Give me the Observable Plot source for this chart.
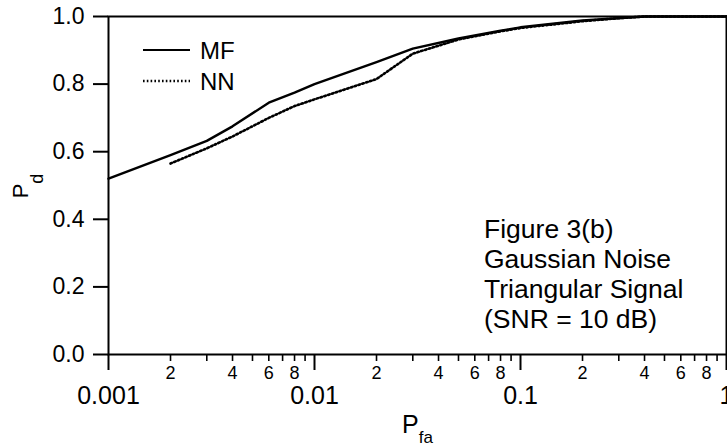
<!DOCTYPE html>
<html>
<head>
<meta charset="utf-8">
<script src="https://cdn.jsdelivr.net/npm/d3@7"></script>
<script src="https://cdn.jsdelivr.net/npm/@observablehq/plot@0.6"></script>
<style>
  html, body { margin: 0; padding: 0; background: #fff; }
  #chart svg { display: block; }
</style>
</head>
<body>
<div id="chart"></div>
<script>
// ---- data ----
const pfaMF = [0.001, 0.002, 0.003, 0.004, 0.006, 0.008, 0.01, 0.02, 0.03, 0.05, 0.08, 0.1, 0.2, 0.4, 1];
const pdMF  = [0.52, 0.59, 0.632, 0.675, 0.745, 0.775, 0.80, 0.865, 0.905, 0.935, 0.958, 0.968, 0.988, 1.0, 1.0];
const pfaNN = [0.002, 0.003, 0.004, 0.006, 0.008, 0.01, 0.02, 0.03, 0.05, 0.08, 0.1, 0.2, 0.3, 0.4, 1];
const pdNN  = [0.565, 0.61, 0.645, 0.70, 0.735, 0.755, 0.815, 0.89, 0.932, 0.956, 0.966, 0.986, 0.995, 1.0, 1.0];

const seriesNames = ["MF", "NN"];
const majorTicks = [0.001, 0.01, 0.1, 1];
const majorLabels = ["0.001", "0.01", "0.1", "1"];
const minorDigits = [2, 3, 4, 5, 6, 7, 8, 9];
const labelledDigits = [2, 4, 6, 8];
const yTicks = [0, 0.2, 0.4, 0.6, 0.8, 1.0];
const noteLines = ["Figure 3(b)", "Gaussian Noise", "Triangular Signal", "(SNR = 10 dB)"];

const decades = majorTicks.slice(0, 3);
const minorTicks = decades.flatMap(d => minorDigits.map(m => m * d));
const minorLabelRows = decades.flatMap(d => labelledDigits.map(m => ({x: m * d, label: String(m)})));
const majorLabelRows = majorTicks.map((x, i) => ({x, label: majorLabels[i]}));
const rowsMF = pfaMF.map((x, i) => ({x, y: pdMF[i]}));
const rowsNN = pfaNN.map((x, i) => ({x, y: pdNN[i]}));

const FONT = "'Liberation Sans', Arial, Helvetica, sans-serif";

function overlay(index, scales, values, dims) {
  const g = d3.create("svg:g").attr("font-family", FONT).attr("fill", "black");
  const L = dims.marginLeft, T = dims.marginTop;
  // legend
  const leg = g.append("g");
  [[0, null], [1, "1.6,2.2"]].forEach(([i, dash]) => {
    const y0 = T + 34 + i * 31;
    const ln = leg.append("line")
      .attr("x1", L + 35).attr("x2", L + 82)
      .attr("y1", y0).attr("y2", y0)
      .attr("stroke", "black").attr("stroke-width", i ? 2.4 : 2.2);
    if (dash) ln.attr("stroke-dasharray", dash);
    leg.append("text").attr("x", L + 92).attr("y", y0 + 8.5)
      .attr("text-anchor", "start")
      .attr("font-size", 24).text(seriesNames[i]);
  });
  // annotation
  const note = g.append("text").attr("font-size", 26.5).attr("text-anchor", "start");
  noteLines.forEach((s, i) => {
    note.append("tspan").attr("x", L + 376).attr("y", T + 222 + i * 30).text(s);
  });
  // x title
  const xt = g.append("text").attr("x", 402).attr("y", 433).attr("font-size", 25)
    .attr("text-anchor", "start");
  xt.append("tspan").text("P");
  xt.append("tspan").attr("font-size", 17).attr("dy", 10).text("fa");
  // y title
  const yt = g.append("text").attr("transform", "translate(28,186) rotate(-90)")
    .attr("text-anchor", "middle").attr("font-size", 22);
  yt.append("tspan").text("P");
  yt.append("tspan").attr("font-size", 18).attr("dy", 15).text("d");
  return g.node();
}

const noText = () => "";

const chart = Plot.plot({
  width: 727,
  height: 447,
  marginLeft: 108,
  marginRight: 1,
  marginTop: 16,
  marginBottom: 93,
  style: {fontFamily: FONT, color: "black", background: "white"},
  x: {type: "log", domain: [0.001, 1]},
  y: {domain: [0, 1]},
  marks: [
    Plot.frame({stroke: "black", strokeWidth: 2}),
    Plot.axisY({ticks: yTicks, tickFormat: d3.format(".1f"), tickSize: 15, tickPadding: 9,
      fontSize: 23, strokeWidth: 2, label: null}),
    Plot.axisX({ticks: majorTicks, tickFormat: noText, tickSize: 16, strokeWidth: 2, label: null}),
    Plot.axisX({ticks: minorTicks, tickFormat: noText, tickSize: 7, strokeWidth: 1.6, label: null}),
    Plot.text(majorLabelRows, {x: "x", text: "label", frameAnchor: "bottom", lineAnchor: "top",
      dy: 32, fontSize: 25}),
    Plot.text(minorLabelRows, {x: "x", text: "label", frameAnchor: "bottom", lineAnchor: "top",
      dy: 12, fontSize: 18}),
    Plot.line(rowsMF, {x: "x", y: "y", stroke: "black", strokeWidth: 2.4}),
    Plot.line(rowsNN, {x: "x", y: "y", stroke: "black", strokeWidth: 2.6, strokeDasharray: "1.6,2.4"}),
    overlay
  ]
});
document.getElementById("chart").append(chart);
</script>
</body>
</html>
